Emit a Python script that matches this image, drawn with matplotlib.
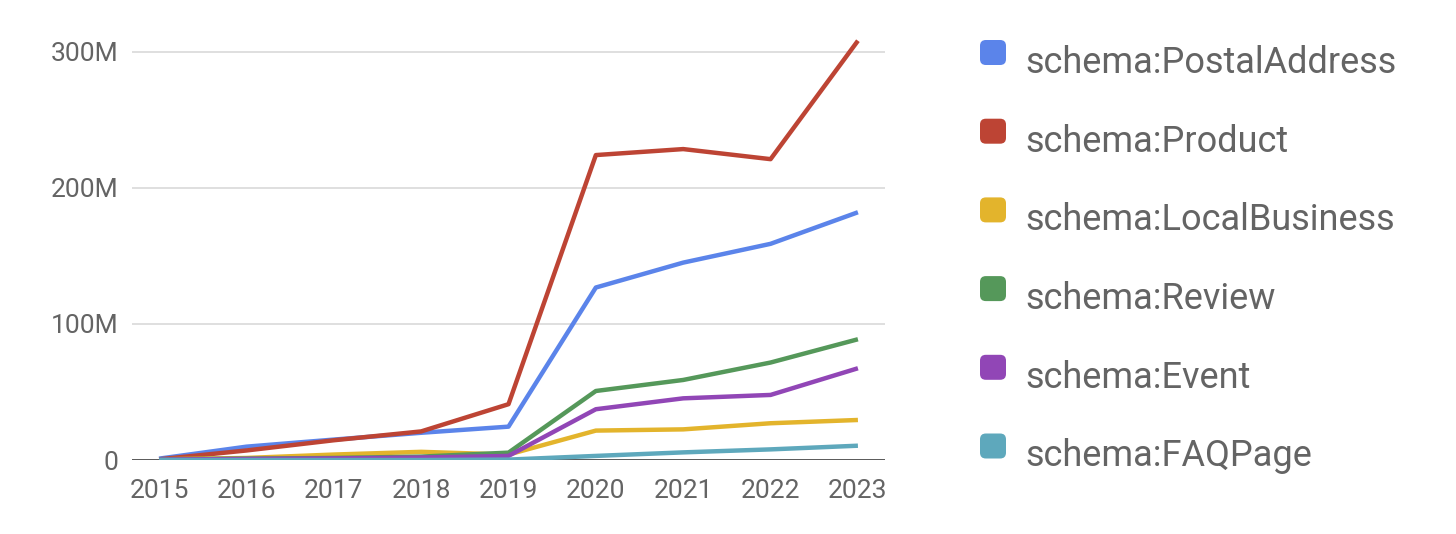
import matplotlib
matplotlib.use("Agg")
import matplotlib.pyplot as plt
from matplotlib.patches import FancyBboxPatch

years = [2015, 2016, 2017, 2018, 2019, 2020, 2021, 2022, 2023]
series_names = ["schema:PostalAddress", "schema:Product", "schema:LocalBusiness",
                "schema:Review", "schema:Event", "schema:FAQPage"]
postal_address = [1.0, 9.8, 15.0, 20.0, 24.5, 126.7, 145.0, 158.8, 182.0]
product = [0.5, 7.0, 14.5, 21.0, 41.0, 224.0, 228.4, 221.0, 308.0]
local_business = [0.5, 1.5, 4.0, 6.0, 4.0, 21.6, 22.5, 27.0, 29.4]
review = [0.5, 1.0, 1.5, 2.5, 5.4, 50.7, 58.8, 71.6, 88.7]
event = [0.3, 0.8, 1.2, 1.8, 3.0, 37.3, 45.3, 47.8, 67.4]
faq_page = [0.0, 0.0, 0.0, 0.0, 0.3, 3.0, 5.6, 7.8, 10.5]
y_ticks = [0, 100, 200, 300]
y_tick_labels = ["0", "100M", "200M", "300M"]

colors = ["#5b84ea", "#bd4434", "#e3b42c", "#55985a", "#9146b6", "#5ea8bc"]
all_series = [postal_address, product, local_business, review, event, faq_page]

plt.rcParams['font.family'] = ['Roboto', 'DejaVu Sans']
text_color = "#646464"

W, H = 1456, 534
fig = plt.figure(figsize=(W / 100, H / 100), dpi=100)
ax_left, ax_right = 132 / W, 885 / W
ax_bottom, ax_top = (H - 460) / H, (H - 38) / H
ax = fig.add_axes([ax_left, ax_bottom, ax_right - ax_left, ax_top - ax_bottom])

for vals, c in zip(all_series, colors):
    ax.plot(years, vals, color=c, lw=3.2, solid_joinstyle='round', solid_capstyle='butt', zorder=3)

ax.set_xlim(2015 - 0.31, 2023 + 0.31)
ax.set_ylim(0, 310)
ax.set_yticks(y_ticks)
ax.set_yticklabels(y_tick_labels)
ax.set_xticks(years)
ax.set_xticklabels([str(y) for y in years])
ax.tick_params(axis='both', length=0, labelsize=19, labelcolor=text_color)
ax.tick_params(axis='y', pad=10)
ax.tick_params(axis='x', pad=14)
for s in ax.spines.values():
    s.set_visible(False)
ax.grid(axis='y', color='#d9d9d9', lw=1.2, zorder=0)
ax.axhline(0, color='#444444', lw=1.2, zorder=2)

# legend
row_h = 78.7
for i, (name, c) in enumerate(zip(series_names, colors)):
    top = 40 + i * row_h
    x0, y0 = 980, H - (top + 25)
    fig.patches.append(FancyBboxPatch((x0 / W, y0 / H), 26 / W, 25 / H,
                                      boxstyle="round,pad=0,rounding_size=0.004",
                                      transform=fig.transFigure, facecolor=c,
                                      edgecolor='none', mutation_aspect=W / H))
    fig.text(1025 / W, (H - (73 + i * row_h)) / H, name, fontsize=26,
             color=text_color, va='baseline', ha='left')

fig.savefig("out.png", dpi=100, facecolor='white')
